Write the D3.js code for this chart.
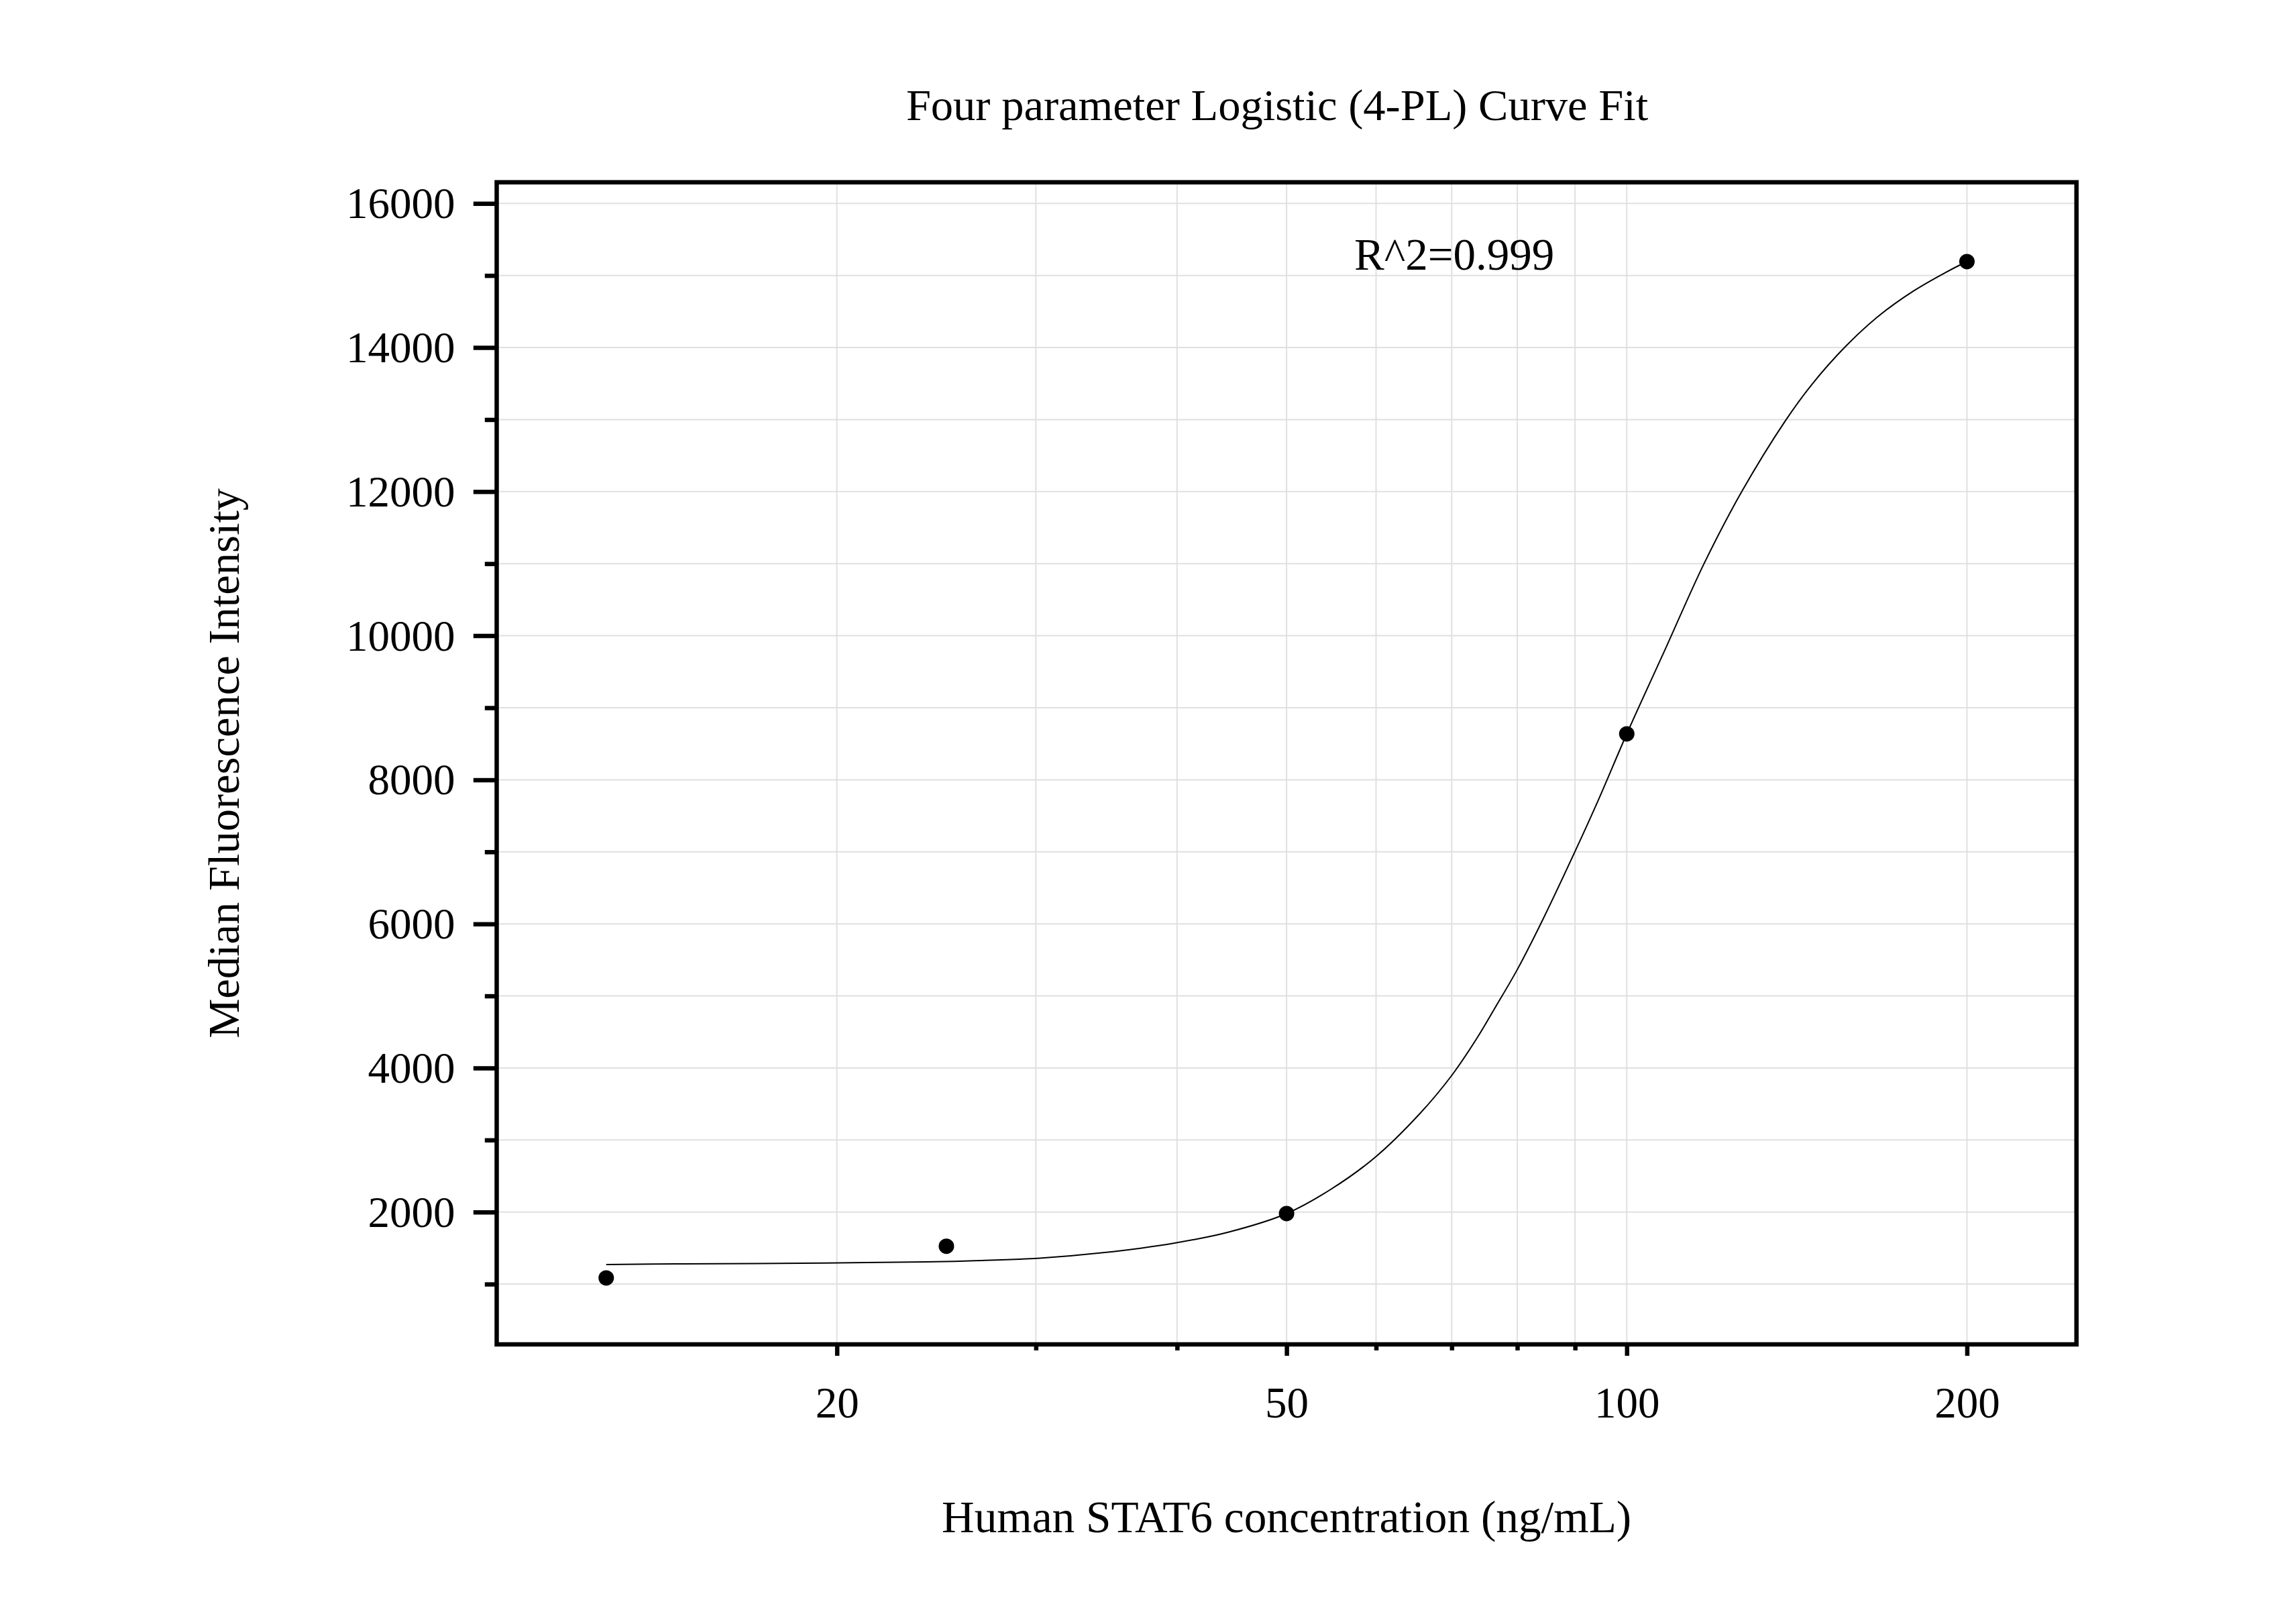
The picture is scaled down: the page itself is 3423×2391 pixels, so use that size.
<!DOCTYPE html>
<html>
<head>
<meta charset="utf-8">
<script src="https://cdn.jsdelivr.net/npm/d3@7"></script>
<style>
html, body { margin: 0; padding: 0; background: #ffffff; }
svg { display: block; }
</style>
</head>
<body>
<script>
// ---- data ----
const concentration = [12.5, 25, 50, 100, 200];
const mfi = [1085, 1525, 1979, 8637, 15193];

// fitted 4-PL curve
const fitConc = [12.5, 14.4, 19.5, 24.0, 26.5, 30.1, 34.4, 39.8, 44.4, 50, 54.7, 59.9, 65.6, 69.9, 73.6, 76.6, 80, 83.9, 90, 94.5, 100, 108.3, 117.0, 126.4, 138.1, 145.7, 156.0, 167.0, 179.6, 191.4, 197.2, 200];
const fitMfi  = [1271, 1280, 1292, 1308, 1324, 1358, 1436, 1570, 1721, 1979, 2314, 2761, 3366, 3883, 4400, 4856, 5365, 5997, 7006, 7740, 8637, 9832, 10994, 12000, 12980, 13481, 14007, 14435, 14790, 15040, 15146, 15190];

const xMajorTicks = [20, 50, 100, 200];
const xMinorTicks = [30, 40, 60, 70, 80, 90];
const yMajorTicks = [2000, 4000, 6000, 8000, 10000, 12000, 14000, 16000];
const yMinorTicks = [1000, 3000, 5000, 7000, 9000, 11000, 13000, 15000];

const xDomain = [10, 250];
const yDomain = [163, 16294];

const titleText = "Four parameter Logistic (4-PL) Curve Fit";
const xLabelText = "Human STAT6 concentration (ng/mL)";
const yLabelText = "Median Fluorescence Intensity";
const r2Text = "R^2=0.999";

// ---- layout ----
const W = 3423, H = 2391;
const plot = { left: 740.5, right: 3095.7, top: 271.7, bottom: 2004 };
const FONT = "'Liberation Serif', 'Times New Roman', Times, serif";

const svg = d3.select("body").append("svg")
  .attr("width", W).attr("height", H)
  .attr("viewBox", `0 0 ${W} ${H}`);

svg.append("rect").attr("width", W).attr("height", H).attr("fill", "#ffffff");

const x = d3.scaleLog().domain(xDomain).range([plot.left, plot.right]);
const y = d3.scaleLinear().domain(yDomain).range([plot.bottom, plot.top]);

// grid
const grid = svg.append("g").attr("class", "grid");
grid.selectAll("line.gx").data(xMajorTicks.concat(xMinorTicks)).enter().append("line")
  .attr("x1", d => x(d)).attr("x2", d => x(d))
  .attr("y1", plot.top).attr("y2", plot.bottom)
  .attr("stroke", "#e0e0e0").attr("stroke-width", 2);
grid.selectAll("line.gy").data(yMajorTicks.concat(yMinorTicks)).enter().append("line")
  .attr("x1", plot.left).attr("x2", plot.right)
  .attr("y1", d => y(d)).attr("y2", d => y(d))
  .attr("stroke", "#e0e0e0").attr("stroke-width", 2);

// fitted curve
const line = d3.line()
  .x((d, i) => x(fitConc[i]))
  .y((d, i) => y(fitMfi[i]))
  .curve(d3.curveCatmullRom.alpha(0.5));
svg.append("path")
  .attr("d", line(fitConc))
  .attr("fill", "none")
  .attr("stroke", "#000000")
  .attr("stroke-width", 2);

// points
svg.append("g").selectAll("circle").data(concentration).enter().append("circle")
  .attr("cx", d => x(d))
  .attr("cy", (d, i) => y(mfi[i]))
  .attr("r", 11.5)
  .attr("fill", "#000000");

// axes
const AXW = 6.5;
const xAxisMajor = d3.axisBottom(x).tickValues(xMajorTicks).tickFormat(d3.format("d"))
  .tickSize(17).tickPadding(0);
const gxMaj = svg.append("g").attr("transform", `translate(0,${plot.bottom})`).call(xAxisMajor);
gxMaj.select(".domain").remove();
gxMaj.selectAll(".tick line").attr("stroke", "#000").attr("stroke-width", AXW);
gxMaj.selectAll(".tick text")
  .attr("y", 109).attr("dy", null)
  .attr("font-family", FONT).attr("font-size", 65).attr("fill", "#000");

const xAxisMinor = d3.axisBottom(x).tickValues(xMinorTicks).tickFormat("").tickSize(9);
const gxMin = svg.append("g").attr("transform", `translate(0,${plot.bottom})`).call(xAxisMinor);
gxMin.select(".domain").remove();
gxMin.selectAll(".tick line").attr("stroke", "#000").attr("stroke-width", AXW);

const yAxisMajor = d3.axisLeft(y).tickValues(yMajorTicks).tickFormat(d3.format("d"))
  .tickSize(34.7).tickPadding(27.4);
const gyMaj = svg.append("g").attr("transform", `translate(${plot.left},0)`).call(yAxisMajor);
gyMaj.select(".domain").remove();
gyMaj.selectAll(".tick line").attr("stroke", "#000").attr("stroke-width", AXW);
gyMaj.selectAll(".tick text")
  .attr("dy", null).attr("y", 21.5)
  .attr("font-family", FONT).attr("font-size", 65).attr("fill", "#000");

const yAxisMinor = d3.axisLeft(y).tickValues(yMinorTicks).tickFormat("").tickSize(17.7);
const gyMin = svg.append("g").attr("transform", `translate(${plot.left},0)`).call(yAxisMinor);
gyMin.select(".domain").remove();
gyMin.selectAll(".tick line").attr("stroke", "#000").attr("stroke-width", AXW);

// frame
svg.append("rect")
  .attr("x", plot.left).attr("y", plot.top)
  .attr("width", plot.right - plot.left).attr("height", plot.bottom - plot.top)
  .attr("fill", "none").attr("stroke", "#000").attr("stroke-width", AXW);

// texts
svg.append("text")
  .attr("x", 1904).attr("y", 179.3)
  .attr("text-anchor", "middle")
  .attr("font-family", FONT).attr("font-size", 66.5).attr("fill", "#000")
  .text(titleText);

svg.append("text")
  .attr("x", (plot.left + plot.right) / 2).attr("y", 2284)
  .attr("text-anchor", "middle")
  .attr("font-family", FONT).attr("font-size", 67.3).attr("fill", "#000")
  .text(xLabelText);

svg.append("text")
  .attr("transform", `translate(356,${(plot.top + plot.bottom) / 2}) rotate(-90)`)
  .attr("text-anchor", "middle")
  .attr("font-family", FONT).attr("font-size", 66.5).attr("fill", "#000")
  .text(yLabelText);

svg.append("text")
  .attr("x", 2019).attr("y", 401.7)
  .attr("font-family", FONT).attr("font-size", 67).attr("fill", "#000")
  .text(r2Text);
</script>
</body>
</html>
